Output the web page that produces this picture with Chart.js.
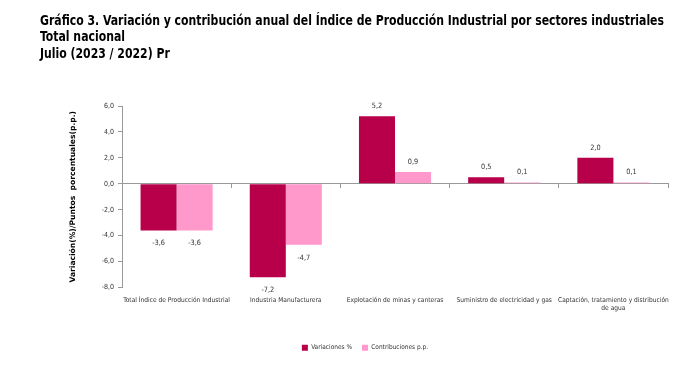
<!DOCTYPE html>
<html><head><meta charset="utf-8">
<script src="https://cdn.jsdelivr.net/npm/chart.js@4/dist/chart.umd.min.js"></script>
<style>
html,body{margin:0;padding:0;background:#fff;}
#wrap{position:relative;width:694px;height:366px;overflow:hidden;}
#title{position:absolute;left:40px;top:12px;font-family:"DejaVu Sans Condensed","Open Sans",sans-serif;font-weight:bold;font-size:13.5px;line-height:16.3px;color:#000;white-space:nowrap;transform-origin:0 0;}
canvas{position:absolute;left:0;top:0;}
</style></head>
<body><div id="wrap">
<canvas id="c" width="694" height="366"></canvas>
<div id="title"><span id="t1">Gráfico 3. Variación y contribución anual del Índice de Producción Industrial por sectores industriales</span><br>Total nacional<br>Julio (2023 / 2022) Pr</div>
</div>
<script>
const categories = [
  "Total Índice de Producción Industrial",
  "Industria Manufacturera",
  "Explotación de minas y canteras",
  "Suministro de electricidad y gas",
  ["Captación, tratamiento y distribución", "de agua"]
];
const variaciones = [-3.6, -7.2, 5.2, 0.5, 2.0];
const contribuciones = [-3.6, -4.7, 0.9, 0.1, 0.1];
const seriesNames = ["Variaciones %", "Contribuciones p.p."];
const yTicks = [-8, -6, -4, -2, 0, 2, 4, 6];

// fit title first line to the reference width
(function(){
  const t1 = document.getElementById('t1');
  const w = t1.getBoundingClientRect().width;
  const s = 624 / w;
  document.getElementById('title').style.transform = 'scaleX(' + s + ')';
})();

const FONT = '"DejaVu Sans Condensed","Open Sans",sans-serif';
const fmt = v => v.toFixed(1).replace('.', ',');

const labelPlugin = {
  id: 'valueLabels',
  afterDatasetsDraw(chart) {
    const ctx = chart.ctx;
    ctx.save();
    ctx.font = '7.3px ' + FONT;
    ctx.fillStyle = '#333';
    ctx.textAlign = 'center';
    ctx.textBaseline = 'middle';
    chart.data.datasets.forEach((ds, i) => {
      chart.getDatasetMeta(i).data.forEach((el, j) => {
        const v = ds.data[j];
        const y = v >= 0 ? el.y - 10 : el.y + 13;
        ctx.fillText(fmt(v), el.x, y);
      });
    });
    ctx.restore();
  }
};

new Chart(document.getElementById('c'), {
  type: 'bar',
  data: {
    labels: categories,
    datasets: [
      { label: seriesNames[0], data: variaciones, backgroundColor: '#B8004A', categoryPercentage: 0.66, barPercentage: 1.0 },
      { label: seriesNames[1], data: contribuciones, backgroundColor: '#FF99CC', categoryPercentage: 0.66, barPercentage: 1.0 }
    ]
  },
  options: {
    responsive: false,
    animation: false,
    devicePixelRatio: 1,
    layout: { padding: { left: 62, right: 26, top: 106, bottom: 5 } },
    plugins: {
      legend: {
        position: 'bottom',
        labels: { boxWidth: 6, boxHeight: 6, font: { size: 6.5, family: FONT }, color: '#333', padding: 10 }
      },
      tooltip: { enabled: false },
      title: { display: false }
    },
    scales: {
      x: {
        type: 'category',
        offset: true,
        position: 'bottom',
        grid: { display: false, drawTicks: false },
        border: { display: false },
        ticks: { font: { size: 6.6, family: FONT }, color: '#333', maxRotation: 0, autoSkip: false, padding: 9, lineHeight: 2.0 },
        afterFit: s => { s.height = 47; }
      },
      x2: {
        type: 'category',
        labels: categories,
        offset: true,
        position: { y: 0 },
        grid: { offset: true, drawOnChartArea: false, drawTicks: true, tickLength: 4, color: '#999' },
        border: { display: true, color: '#999' },
        ticks: { display: false }
      },
      y: {
        min: -8, max: 6,
        afterBuildTicks: s => { s.ticks = yTicks.map(v => ({ value: v })); },
        grid: { drawOnChartArea: false, tickLength: 4, color: '#999' },
        border: { display: true, color: '#999' },
        ticks: { font: { size: 7, family: FONT }, color: '#333', padding: 4, callback: v => fmt(v) },
        title: { display: true, text: 'Variación(%)/Puntos  porcentuales(p.p.)', font: { size: 7.6, weight: 'bold', family: '"DejaVu Sans",sans-serif' }, color: '#000', padding: { top: 6, bottom: 0 } },
        afterFit: s => { s.width = 60; }
      }
    }
  },
  plugins: [labelPlugin]
});
</script>
</body></html>
